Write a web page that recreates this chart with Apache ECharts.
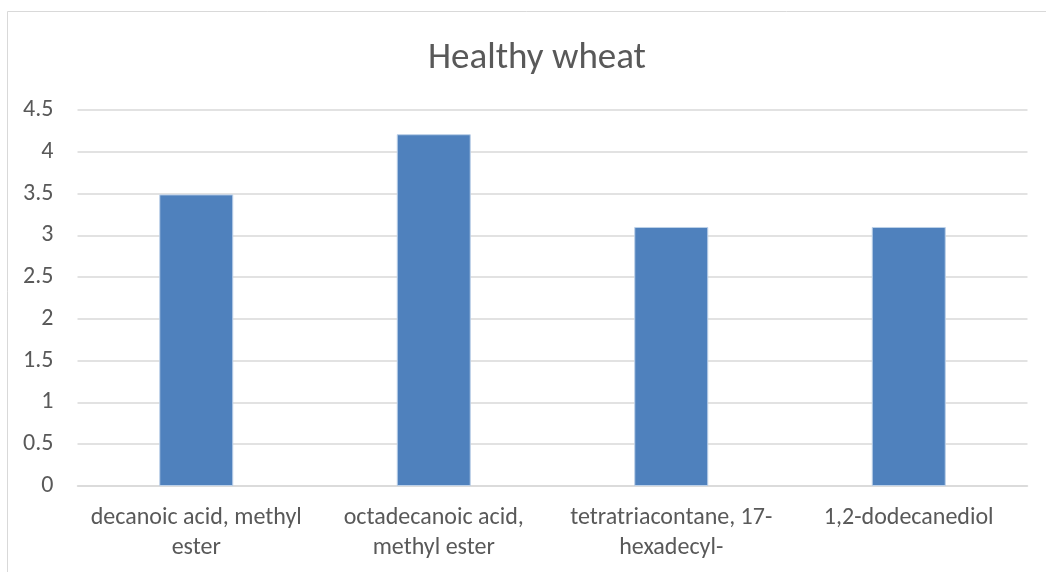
<!DOCTYPE html>
<html>
<head>
<meta charset="utf-8">
<script src="https://cdn.jsdelivr.net/npm/echarts@6/dist/echarts.min.js"></script>
<style>
  html, body { margin: 0; padding: 0; background: #ffffff; }
  #chart { width: 1046px; height: 572px; }
</style>
</head>
<body>
<div id="chart"></div>
<script>
// Compounds detected in healthy wheat
const categories = [
  'decanoic acid, methyl ester',
  'octadecanoic acid, methyl ester',
  'tetratriacontane, 17-hexadecyl-',
  '1,2-dodecanediol'
];
// Axis labels, wrapped the way they are shown under each bar
const categoryLabels = [
  'decanoic acid, methyl\nester',
  'octadecanoic acid,\nmethyl ester',
  'tetratriacontane, 17-\nhexadecyl-',
  '1,2-dodecanediol'
];
const values = [3.49, 4.21, 3.1, 3.1];
const yTicks = { min: 0, max: 4.5, interval: 0.5 };

const FONT = 'Carlito, "Liberation Sans Narrow", "Open Sans", sans-serif';
const chart = echarts.init(document.getElementById('chart'), null, { renderer: 'canvas' });

chart.setOption({
  animation: false,
  backgroundColor: '#ffffff',
  title: {
    text: 'Healthy wheat',
    left: 423,
    top: 35,
    textStyle: { fontFamily: FONT, fontSize: 37, fontWeight: 'normal', color: '#595959' }
  },
  graphic: [
    { type: 'line', shape: { x1: 7.5, y1: 11.5, x2: 1046, y2: 11.5 }, style: { stroke: '#d9d9d9', lineWidth: 1 } },
    { type: 'line', shape: { x1: 7.5, y1: 11.5, x2: 7.5, y2: 572 }, style: { stroke: '#d9d9d9', lineWidth: 1 } }
  ],
  grid: { left: 77.5, right: 18.5, top: 110, bottom: 86, containLabel: false },
  xAxis: {
    type: 'category',
    data: categories,
    axisLine: { show: true, lineStyle: { color: '#d9d9d9', width: 1.5 } },
    axisTick: { show: false },
    axisLabel: {
      interval: 0,
      margin: 17,
      fontFamily: FONT,
      fontSize: 24,
      color: '#595959',
      lineHeight: 30,
      formatter: (v, i) => categoryLabels[i]
    }
  },
  yAxis: {
    type: 'value',
    min: yTicks.min,
    max: yTicks.max,
    interval: yTicks.interval,
    axisLine: { show: false },
    axisTick: { show: false },
    splitLine: { lineStyle: { color: '#d9d9d9', width: 1.5 } },
    axisLabel: {
      margin: 24,
      fontFamily: FONT,
      fontSize: 24,
      color: '#595959'
    }
  },
  series: [{
    type: 'bar',
    data: values,
    barWidth: 74,
    itemStyle: { color: '#4f81bd', borderColor: '#bcd0e8', borderWidth: 1 }
  }]
});
</script>
</body>
</html>
